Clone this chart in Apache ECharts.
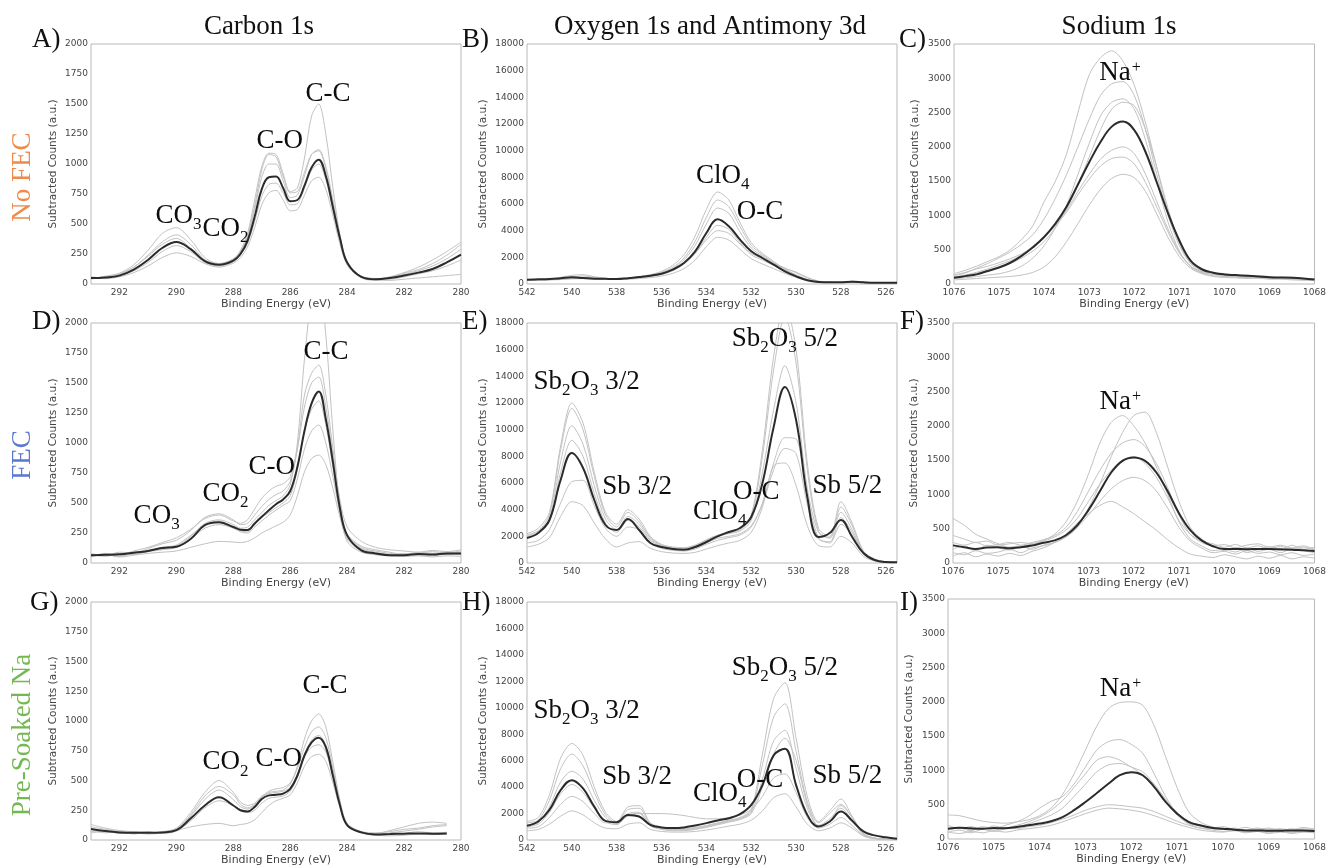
<!DOCTYPE html>
<html><head><meta charset="utf-8">
<script src="https://cdn.jsdelivr.net/npm/echarts@6/dist/echarts.min.js"></script>
<style>html,body{margin:0;padding:0;background:#fff}#c{width:1329px;height:867px}</style>
</head><body><div id="c"></div>
<script>
// ---------- Binding energies (eV) ----------
const E_C = [293,292.5,292,291.5,291,290.5,290,289.5,289,288.5,288,287.75,287.5,287.25,287,286.75,286.5,286.25,286,285.75,285.5,285.25,285,284.75,284.5,284.25,284,283.5,283,282.5,282,281.5,281,280.5,280];
const E_O = [542,541.5,541,540.5,540,539.5,539,538.5,538,537.5,537,536.5,536,535.5,535,534.5,534,533.5,533,532.5,532,531.5,531,530.5,530,529.5,529,528.5,528,527.5,527,526.5,526,525.5];
const E_NA = [1076,1075.75,1075.5,1075.25,1075,1074.75,1074.5,1074.25,1074,1073.75,1073.5,1073.25,1073,1072.75,1072.5,1072.25,1072,1071.75,1071.5,1071.25,1071,1070.75,1070.5,1070.25,1070,1069.75,1069.5,1069.25,1069,1068.75,1068.5,1068.25,1068];

// ---------- A) No FEC, Carbon 1s ----------
const A_mean = [50,55,70,120,200,300,350,290,190,160,195,250,360,560,790,890,895,800,690,700,820,970,1035,900,640,380,180,60,40,50,70,95,125,180,245];
const A_g1 = [45,60,80,140,230,330,380,300,200,170,210,280,420,700,980,1090,1080,920,770,800,1050,1400,1500,1250,800,400,170,60,45,55,80,110,150,210,290];
const A_g2 = [40,65,90,160,280,420,470,370,220,170,200,270,400,650,950,1080,1060,900,760,770,930,1080,1110,960,680,380,160,50,30,55,90,120,170,240,330];
const A_g3 = [60,50,75,110,180,270,320,270,180,150,185,240,340,520,730,830,840,760,660,670,800,950,1000,870,620,360,170,65,45,40,60,85,110,150,200];
const A_g4 = [55,45,60,95,150,220,260,230,170,140,175,220,310,470,660,760,780,700,610,620,740,860,890,790,570,330,160,60,35,30,40,50,60,70,80];
const A_g5 = [50,60,85,140,240,350,410,330,200,160,205,270,390,620,890,1000,1000,860,720,740,900,1080,1120,980,700,400,180,60,40,60,95,140,200,270,350];

// ---------- D) FEC, Carbon 1s ----------
const D_mean = [64,68,72,85,100,125,135,200,315,340,300,278,275,330,385,440,490,530,600,800,1100,1330,1430,1200,840,450,230,105,80,65,65,75,70,80,80];
const D_g1 = [60,70,55,80,95,120,140,220,330,360,320,290,300,360,420,480,520,560,650,1000,1700,2200,2350,1900,1100,450,180,90,70,60,55,70,60,75,70];
const D_g2 = [80,60,90,85,120,160,190,270,380,410,360,320,330,400,470,530,570,600,680,950,1400,1580,1650,1400,950,500,240,130,100,80,70,90,80,90,85];
const D_g3 = [50,75,60,90,100,130,150,230,320,350,300,270,260,320,380,420,460,500,560,780,1100,1280,1350,1150,800,430,220,120,90,70,80,65,75,70,90];
const D_g4 = [70,55,75,70,95,110,130,200,290,320,290,260,250,300,350,400,440,480,520,700,950,1100,1150,1000,720,420,240,140,110,90,70,80,95,85,100];
const D_g5 = [60,70,50,65,80,90,100,130,160,180,175,170,180,210,250,280,310,340,400,560,760,870,900,820,620,380,200,100,70,60,55,60,50,60,55];
const D_g6 = [55,80,70,100,130,170,210,280,370,400,350,330,360,450,540,600,640,660,720,950,1300,1500,1550,1300,900,520,300,180,130,110,100,90,105,95,110];

// ---------- G) Pre-Soaked Na, Carbon 1s ----------
const G_mean = [92,75,64,60,60,64,83,180,290,360,290,250,240,278,345,375,380,390,430,540,710,820,860,780,540,290,125,64,47,50,53,55,53,55,null];
const G_g1 = [110,90,70,65,60,70,100,230,400,500,400,320,290,310,370,400,410,420,470,620,850,1000,1060,950,650,330,140,70,50,60,75,90,110,120,null];
const G_g2 = [70,80,55,60,50,60,90,200,340,420,340,280,260,290,360,410,430,440,480,600,780,910,950,860,600,310,130,60,40,45,55,70,60,65,null];
const G_g3 = [90,60,75,50,70,55,75,160,270,330,290,250,230,250,310,350,360,370,410,530,720,840,880,800,560,300,130,60,55,80,110,140,150,140,null];
const G_g4 = [60,70,60,55,60,65,80,110,130,140,120,130,140,170,230,290,330,350,380,480,620,700,720,660,480,270,120,60,40,35,40,50,45,50,null];
const G_g5 = [130,100,80,70,65,60,90,210,370,450,380,300,270,300,360,390,400,410,440,550,700,780,800,740,530,290,120,70,60,70,90,100,120,130,null];

// ---------- B) No FEC, O 1s / Sb 3d ----------
const B_mean = [325,350,375,430,500,450,400,385,375,440,525,625,775,1075,1575,2450,3825,4850,4325,3325,2450,1950,1450,950,575,275,150,125,125,175,125,100,100,100];
const B_g1 = [300,330,380,500,650,700,550,420,400,450,560,700,950,1400,2200,3600,5600,6900,6300,4600,3100,2300,1700,1100,650,300,150,120,110,200,140,100,90,80];
const B_g2 = [280,300,320,380,450,500,430,380,390,430,520,650,880,1250,1950,3200,5000,6300,5800,4300,2900,2200,1600,1100,700,320,160,130,120,180,130,100,90,90];
const B_g3 = [350,340,360,420,520,600,500,420,410,440,520,620,820,1150,1800,2900,4500,5700,5300,3900,2700,2100,1600,1200,850,450,200,130,120,220,150,110,100,100];
const B_g4 = [320,300,330,360,420,450,400,360,360,400,470,560,720,1000,1500,2300,3500,4400,4100,3100,2200,1800,1400,1000,650,300,150,120,110,150,110,100,90,90];
const B_g5 = [260,280,300,330,380,400,370,340,340,360,410,480,600,800,1150,1800,2800,3500,3300,2600,1900,1500,1150,800,500,250,130,100,100,140,100,90,80,80];
const B_g6 = [300,320,340,380,440,480,420,370,370,410,480,580,760,1050,1550,2300,3300,4000,3800,3000,2300,1900,1500,1150,900,500,220,130,110,160,120,100,90,90];

// ---------- E) FEC, O 1s / Sb 3d ----------
const E_mean = [1875,2250,3225,6225,8250,7125,4725,2850,2475,3300,2475,1500,1200,1050,1000,1200,1575,2000,2325,2625,3450,6000,10200,13200,10725,4950,1950,2250,3225,1950,750,225,75,50];
const E_g1 = [2200,2600,3800,8800,12000,10500,6800,3800,2900,4000,3300,2000,1400,1200,1150,1350,1750,2100,2300,2600,3600,8500,15500,19500,16000,7500,2600,2000,4600,3000,900,300,100,50];
const E_g2 = [2000,2400,3600,8500,11600,10000,6500,3600,2700,3800,3100,1900,1350,1150,1100,1300,1700,2050,2250,2500,3400,8000,14500,18500,15000,7000,2400,1900,4200,2800,850,280,90,50];
const E_g3 = [1900,2200,3300,7600,10300,8900,5800,3300,2500,3500,2900,1800,1300,1100,1050,1250,1650,2000,2200,2400,3200,6800,11500,14800,12000,5600,2300,1850,3800,2500,800,260,80,40];
const E_g4 = [1500,1700,2500,4500,6100,6200,4300,2600,2000,2700,2500,1500,1100,950,900,1050,1400,1700,1900,2100,2700,4500,7500,9400,9300,5000,1900,1500,2900,2100,700,220,70,40];
const E_g5 = [1200,1400,1900,3500,4600,4300,3000,1800,1200,1500,1600,1100,850,750,720,800,1050,1300,1500,1700,2300,4200,7300,7500,5800,2800,1300,1200,2000,1500,500,150,50,30];
const E_g6 = [2100,2400,3100,6800,9200,8000,5200,3000,2300,3200,2700,1700,1250,1050,1000,1150,1500,1850,2000,2200,2800,4400,7000,8600,8200,4400,1800,1600,3400,2300,750,240,80,40];

// ---------- H) Pre-Soaked Na, O 1s / Sb 3d ----------
const H_mean = [1075,1400,2275,3775,4525,3900,2525,1450,1350,1900,1775,1150,950,900,950,1100,1275,1475,1650,1950,2650,4150,6400,6900,4150,1900,1025,1400,2150,1450,650,350,200,100];
const H_g1 = [1400,1700,3400,6200,7300,6400,4000,2100,1400,2500,2600,1300,950,850,850,950,1100,1300,1500,1700,2300,6500,10700,11900,7700,3300,1400,2200,3100,1800,500,150,60,30];
const H_g2 = [1300,1500,3000,5400,6500,5600,3600,1900,1300,2300,2400,1200,900,800,800,900,1050,1250,1450,1650,2200,5700,9300,10300,6700,2900,1300,2000,2700,1700,450,140,60,30];
const H_g3 = [1100,1300,2500,4400,5200,4600,3000,1700,1200,2000,2100,1100,850,750,750,850,1000,1200,1400,1600,2100,4600,7500,8300,5400,2400,1100,1600,2400,1500,400,120,50,30];
const H_g4 = [900,1000,1700,2700,3300,2900,2000,1300,1300,1800,2000,2000,2000,1950,1850,1700,1600,1600,1700,1900,2300,3300,4700,5000,3600,1700,900,1200,1700,1100,350,100,40,20];
const H_g5 = [700,800,1200,1800,2200,1900,1300,900,850,1200,1300,800,650,600,600,650,750,900,1050,1200,1500,2200,3200,3500,2500,1200,700,900,1300,900,300,90,30,20];
const H_g6 = [1000,1200,2100,3500,4200,3600,2400,1400,1150,1900,2000,1050,800,700,700,800,950,1150,1350,1550,2000,4000,6500,7700,6000,2700,1100,1400,2600,1700,450,130,50,30];

// ---------- C) No FEC, Na 1s ----------
const C_mean = [90,115,140,190,240,310,410,535,685,880,1130,1450,1775,2070,2295,2370,2245,1925,1480,1030,635,340,215,165,140,130,120,110,100,95,90,80,65];
const C_g1 = [150,200,260,330,400,500,650,850,1200,1500,1900,2500,3050,3300,3400,3250,2900,2350,1700,1050,600,320,220,170,150,130,110,120,110,90,100,80,70];
const C_g2 = [120,160,230,300,380,470,580,720,950,1250,1600,2000,2400,2750,2920,2950,2750,2250,1600,1000,560,300,200,160,140,120,130,100,90,100,80,70,60];
const C_g3 = [80,90,110,130,150,190,260,380,560,820,1150,1600,2050,2450,2650,2700,2550,2100,1500,900,480,250,160,120,110,100,90,95,80,85,70,60,55];
const C_g4 = [100,130,170,220,280,340,420,530,680,870,1080,1350,1600,1820,1950,2000,1900,1600,1200,800,470,260,170,140,120,110,100,90,95,80,75,70,60];
const C_g5 = [60,70,80,90,100,110,130,170,250,400,620,880,1150,1380,1540,1600,1550,1350,1020,680,400,230,150,110,95,90,80,85,70,70,60,55,50];
const C_g6 = [130,170,220,260,310,370,440,540,680,850,1050,1300,1530,1720,1830,1850,1750,1480,1120,760,450,260,180,140,130,120,110,100,105,90,85,80,70];
const C_g7 = [90,120,160,200,250,300,380,480,620,820,1100,1450,1850,2250,2550,2650,2600,2250,1700,1100,600,300,190,150,130,110,100,110,90,80,85,70,60];

// ---------- F) FEC, Na 1s ----------
const F_mean = [257,230,205,225,230,215,230,255,295,330,405,550,775,1045,1320,1490,1540,1490,1320,1045,725,480,330,245,205,205,200,205,205,200,195,185,175];
const F_g1 = [200,250,180,260,220,190,240,280,330,420,600,900,1300,1750,2050,2150,2000,1750,1400,1000,600,350,250,180,200,160,220,170,200,150,210,180,150];
const F_g2 = [650,550,420,350,280,230,250,200,260,300,380,520,800,1150,1550,1900,2150,2200,1900,1400,900,520,350,250,180,230,150,200,240,180,260,200,230];
const F_g3 = [300,260,300,250,270,300,260,300,340,400,520,750,1050,1350,1600,1750,1800,1700,1450,1100,700,420,300,250,270,220,260,280,230,260,220,250,200];
const F_g4 = [150,120,180,140,160,200,150,220,250,300,380,520,700,900,1080,1200,1250,1200,1050,800,520,320,220,150,170,130,180,140,160,120,150,110,130];
const F_g5 = [100,150,90,130,100,140,110,170,220,300,420,580,720,840,900,820,720,600,480,340,220,130,100,80,120,90,60,100,70,110,60,90,70];
const F_g6 = [400,350,300,320,260,280,300,280,320,380,480,650,900,1150,1350,1500,1550,1450,1250,950,620,420,320,280,230,270,220,250,210,240,200,230,190];

// ---------- I) Pre-Soaked Na, Na 1s ----------
const I_mean = [150,165,155,150,160,155,175,200,225,260,320,420,540,670,805,930,975,930,760,540,370,250,200,165,150,135,125,125,120,120,125,125,115];
const I_g1 = [350,340,300,260,240,230,250,280,340,450,650,950,1300,1650,1900,1990,2000,1950,1650,1200,750,400,250,180,150,130,120,140,110,130,100,120,100];
const I_g2 = [130,160,120,180,150,200,250,330,450,550,620,800,1050,1300,1420,1450,1380,1250,950,620,370,230,190,160,180,140,170,130,160,120,150,130,150];
const I_g3 = [200,150,180,140,190,160,200,250,320,420,560,750,950,1150,1200,1150,1050,980,800,580,380,260,200,170,140,160,120,150,110,140,120,150,130];
const I_g4 = [100,130,90,140,110,150,180,220,280,350,450,620,800,980,1080,1100,1050,920,750,540,350,220,160,130,110,140,100,120,90,110,80,100,90];
const I_g5 = [150,170,140,160,130,170,150,180,200,240,290,350,420,470,500,490,470,450,400,330,260,200,160,150,140,150,130,160,140,150,130,170,140];
const I_g6 = [100,80,110,90,120,100,130,150,170,200,250,310,370,420,450,440,420,390,340,280,220,170,130,110,100,120,90,110,80,100,90,110,100];

// ---------- Peak annotations [text, energy, counts] ----------
const ANN_A = [['{n|CO}{s|3}',290.75,558],['{n|CO}{s|2}',289.1,450],['{n|C-O}',287.2,1183],['{n|C-C}',285.48,1575]];
const ANN_D = [['{n|CO}{s|3}',291.52,383],['{n|CO}{s|2}',289.1,567],['{n|C-O}',287.48,792],['{n|C-C}',285.55,1750]];
const ANN_G = [['{n|CO}{s|2}',289.1,642],['{n|C-O}',287.24,667],['{n|C-C}',285.59,1283]];
const ANN_B = [['{n|ClO}{s|4}',534.49,8025],['{n|O-C}',532.67,5325]];
const ANN_E = [['{n|Sb}{s|2}{n|O}{s|3}{n| 3/2}',541.73,13500],['{n|Sb 3/2}',538.67,5625],['{n|ClO}{s|4}',534.62,3750],['{n|O-C}',532.84,5250],['{n|Sb}{s|2}{n|O}{s|3}{n| 5/2}',532.89,16725],['{n|Sb 5/2}',529.29,5700]];
const ANN_H = [['{n|Sb}{s|2}{n|O}{s|3}{n| 3/2}',541.73,9675],['{n|Sb 3/2}',538.67,4650],['{n|ClO}{s|4}',534.62,3375],['{n|O-C}',532.67,4425],['{n|Sb}{s|2}{n|O}{s|3}{n| 5/2}',532.89,12900],['{n|Sb 5/2}',529.29,4725]];
const ANN_C = [['{n|Na}{p|+}',1072.79,3062]];
const ANN_F = [['{n|Na}{p|+}',1072.77,2333]];
const ANN_I = [['{n|Na}{p|+}',1072.7,2173]];

// ---------- Axis settings ----------
const X_C = {min:280, max:293, interval:1};
const X_O = {min:525.5, max:542, interval:0.5};
const X_NA = {min:1068, max:1076, interval:1};
const Y_C = {max:2000, interval:250};
const Y_O = {max:18000, interval:2000};
const Y_NA = {max:3500, interval:500};

const PANELS = [
  {letter:'A)', grid:{left:91,top:44,width:370,height:240}, E:E_C, X:X_C, Y:Y_C, gap:32, mean:A_mean, grays:[A_g1,A_g2,A_g3,A_g4,A_g5], ann:ANN_A},
  {letter:'B)', grid:{left:527,top:44,width:370,height:240}, E:E_O, X:X_O, Y:Y_O, gap:38, mean:B_mean, grays:[B_g1,B_g2,B_g3,B_g4,B_g5,B_g6], ann:ANN_B},
  {letter:'C)', grid:{left:954,top:44,width:364,height:240}, E:E_NA, X:X_NA, Y:Y_NA, gap:33, mean:C_mean, grays:[C_g1,C_g2,C_g3,C_g4,C_g5,C_g6,C_g7], ann:ANN_C},
  {letter:'D)', grid:{left:91,top:323,width:370,height:240}, E:E_C, X:X_C, Y:Y_C, gap:32, mean:D_mean, grays:[D_g1,D_g2,D_g3,D_g4,D_g5,D_g6], ann:ANN_D},
  {letter:'E)', grid:{left:527,top:323,width:370,height:240}, E:E_O, X:X_O, Y:Y_O, gap:38, mean:E_mean, grays:[E_g1,E_g2,E_g3,E_g4,E_g5,E_g6], ann:ANN_E},
  {letter:'F)', grid:{left:953,top:323,width:364,height:240}, E:E_NA, X:X_NA, Y:Y_NA, gap:33, mean:F_mean, grays:[F_g1,F_g2,F_g3,F_g4,F_g5,F_g6], ann:ANN_F},
  {letter:'G)', grid:{left:91,top:602,width:370,height:240}, E:E_C, X:X_C, Y:Y_C, gap:32, mean:G_mean, grays:[G_g1,G_g2,G_g3,G_g4,G_g5], ann:ANN_G},
  {letter:'H)', grid:{left:527,top:602,width:370,height:240}, E:E_O, X:X_O, Y:Y_O, gap:38, mean:H_mean, grays:[H_g1,H_g2,H_g3,H_g4,H_g5,H_g6], ann:ANN_H},
  {letter:'I)', grid:{left:948,top:599,width:370,height:240}, E:E_NA, X:X_NA, Y:Y_NA, gap:33, mean:I_mean, grays:[I_g1,I_g2,I_g3,I_g4,I_g5,I_g6], ann:ANN_I}
];

const SERIF = '"Liberation Serif", "Times New Roman", serif';
const SANS = '"DejaVu Sans", sans-serif';
const RICH = {
  n:{fontFamily:SERIF, fontSize:27, color:'#0d0d0d', lineHeight:30, verticalAlign:'top', opacity:1},
  s:{fontFamily:SERIF, fontSize:17, color:'#0d0d0d', lineHeight:17, padding:[14,0,0,0], verticalAlign:'top', opacity:1},
  p:{fontFamily:SERIF, fontSize:16, color:'#0d0d0d', lineHeight:16, padding:[1,0,0,1], verticalAlign:'top', opacity:1}
};

function pairs(xs, ys){ return xs.map((x,i)=>[x, ys[i]]); }
function evenLabel(v){ return (Math.abs(v-Math.round(v))<1e-9 && Math.round(v)%2===0) ? String(Math.round(v)) : ''; }
function intLabel(v){ return (Math.abs(v-Math.round(v))<1e-9) ? String(Math.round(v)) : ''; }
function plainLabel(v){ return String(v); }

const grids=[], xAxes=[], yAxes=[], series=[];
PANELS.forEach((p,i)=>{
  grids.push(Object.assign({show:true, borderColor:'#b8b8b8', borderWidth:1, backgroundColor:'transparent'}, p.grid));
  xAxes.push({type:'value', gridIndex:i, inverse:true, min:p.X.min, max:p.X.max, interval:p.X.interval,
    name:'Binding Energy (eV)', nameLocation:'middle', nameGap:15,
    nameTextStyle:{fontFamily:SANS, fontSize:11, color:'#444'},
    axisLine:{show:false}, axisTick:{show:false}, splitLine:{show:false},
    axisLabel:{fontFamily:SANS, fontSize:9, color:'#444', margin:4, formatter: p.X===X_NA ? intLabel : evenLabel}});
  yAxes.push({type:'value', gridIndex:i, min:0, max:p.Y.max, interval:p.Y.interval,
    name:'Subtracted Counts (a.u.)', nameLocation:'middle', nameGap:p.gap,
    nameTextStyle:{fontFamily:SANS, fontSize:10.5, color:'#444'},
    axisLine:{show:false}, axisTick:{show:false}, splitLine:{show:false},
    axisLabel:{fontFamily:SANS, fontSize:9, color:'#444', margin:3, formatter:plainLabel}});
  p.grays.forEach(g=>{
    series.push({type:'line', xAxisIndex:i, yAxisIndex:i, data:pairs(p.E,g), showSymbol:false, smooth:0.3,
      lineStyle:{color:'#c2c2c2', width:1}, silent:true, z:2});
  });
  series.push({type:'line', xAxisIndex:i, yAxisIndex:i, data:pairs(p.E,p.mean), showSymbol:false, smooth:0.4,
    lineStyle:{color:'#2b2b2b', width:2}, silent:true, z:3});
  series.push({type:'scatter', xAxisIndex:i, yAxisIndex:i, symbolSize:1, itemStyle:{color:'rgba(0,0,0,0)', opacity:1}, silent:true, z:5,
    data:p.ann.map(a=>({value:[a[1],a[2]], label:{show:true, position:'right', distance:0, opacity:1, color:'#0d0d0d', formatter:a[0], rich:RICH}}))});
});

// ---------- Titles, panel letters, row labels ----------
const TITLES = [['Carbon 1s',259,27],['Oxygen 1s and Antimony 3d',710,27],['Sodium 1s',1119,27]];
const LETTER_POS = [[32,40],[462,40],[899,40],[32,322],[462,322],[900,322],[30,603],[462,603],[900,603]];
const ROWS = [['No FEC','#ef8a4c',23,177],['FEC','#5a78d3',23,455],['Pre-Soaked Na','#74b852',23,735]];

const graphic = [];
TITLES.forEach(t=>graphic.push({type:'text', x:t[1], y:t[2], silent:true,
  style:{text:t[0], font:'27px '+SERIF, fill:'#111', align:'center', verticalAlign:'middle', textAlign:'center', textVerticalAlign:'middle'}}));
PANELS.forEach((p,i)=>graphic.push({type:'text', x:LETTER_POS[i][0], y:LETTER_POS[i][1], silent:true,
  style:{text:p.letter, font:'27px '+SERIF, fill:'#111', align:'left', verticalAlign:'middle', textAlign:'left', textVerticalAlign:'middle'}}));
ROWS.forEach(r=>graphic.push({type:'text', x:r[2], y:r[3], rotation:Math.PI/2, silent:true,
  style:{text:r[0], font:'27px '+SERIF, fill:r[1], align:'center', verticalAlign:'middle', textAlign:'center', textVerticalAlign:'middle'}}));

const chart = echarts.init(document.getElementById('c'), null, {renderer:'canvas'});
chart.setOption({animation:false, backgroundColor:'#fff', grid:grids, xAxis:xAxes, yAxis:yAxes, series:series, graphic:graphic});
</script>
</body></html>
